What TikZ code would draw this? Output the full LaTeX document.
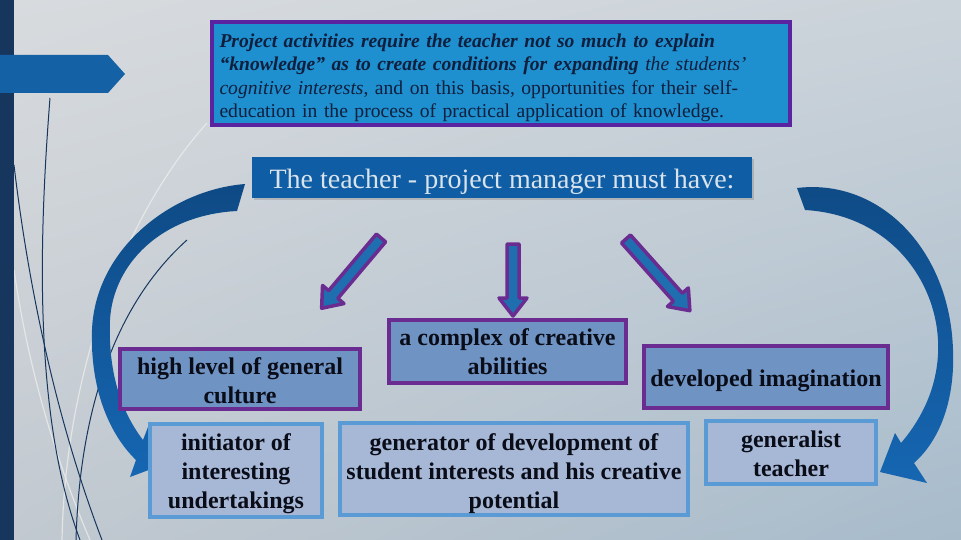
\documentclass[tikz,border=0pt]{standalone}
\usepackage{fontspec}
\setmainfont{Liberation Serif}
\usetikzlibrary{shadows,shadings}
\definecolor{bgUL}{HTML}{D8DBDE}
\definecolor{bgUR}{HTML}{CBD3DA}
\definecolor{bgLL}{HTML}{C2C9D0}
\definecolor{bgLR}{HTML}{A7BBCB}
\definecolor{barnavy}{HTML}{17365D}
\definecolor{pentblue}{HTML}{1461A6}
\definecolor{topfill}{HTML}{1E8FCF}
\definecolor{topborder}{HTML}{5A24A0}
\definecolor{toptext}{HTML}{0F1F3D}
\definecolor{titlefill}{HTML}{0F5EA5}
\definecolor{titletext}{HTML}{D9E3EC}
\definecolor{purp}{HTML}{6A2C90}
\definecolor{pfill}{HTML}{6F93C3}
\definecolor{bborder}{HTML}{5B9BD5}
\definecolor{bfill}{HTML}{A6B8D6}
\definecolor{arrfill}{HTML}{1F6EB0}
\definecolor{curvtop}{HTML}{0E4A85}
\definecolor{curvbot}{HTML}{1666B2}
\definecolor{boxtext}{HTML}{0A0C18}
\newcommand\lowr[1]{\rule{0pt}{#1}}
\tikzset{
  topbox/.style={draw=topborder, line width=4pt, fill=topfill, text width=562pt, align=left,
    inner xsep=8pt, minimum height=103pt, text=toptext, font=\fontsize{19.6}{23.3}\selectfont},
  titlebox/.style={fill=titlefill, minimum width=500pt, minimum height=41pt, inner sep=0pt,
    text=titletext, font=\fontsize{28}{30}\selectfont,
    drop shadow={shadow xshift=2pt, shadow yshift=-2pt, opacity=0.35}},
  pbox/.style={draw=purp, line width=3.5pt, fill=pfill, align=center, inner sep=0pt,
    text=boxtext, font=\bfseries\fontsize{24}{29}\selectfont},
  bbox/.style={draw=bborder, line width=4pt, fill=bfill, align=center, inner sep=0pt,
    text=boxtext, font=\bfseries\fontsize{24}{29}\selectfont,
    drop shadow={shadow xshift=2pt, shadow yshift=-2pt, opacity=0.3}},
  fatarr/.style={draw=purp, line width=3.5pt, fill=arrfill, line join=round},
  curvarr/.style={top color=curvtop, bottom color=curvbot},
  thinnavy/.style={draw=barnavy, line width=1pt},
  thingray/.style={draw=white!85!gray, line width=1.2pt, opacity=0.8}
}
\newcommand\fatarrow[4]{%
  \begin{scope}[shift={(#1,#2)}, rotate=#3]
    \draw[fatarr] (0,-6) -- ({#4-18},-6) -- ({#4-18},-14) -- (#4,0) -- ({#4-18},14) -- ({#4-18},6) -- (0,6) -- cycle;
  \end{scope}}
\begin{document}
\begin{tikzpicture}[x=1pt, y=-1pt]
  \useasboundingbox (0,0) rectangle (961,540);
  % background
  \shade[upper left=bgUL, upper right=bgUR, lower left=bgLL, lower right=bgLR] (0,0) rectangle (961,540);
  % thin decorative lines
  \draw[thingray] (207,123) .. controls (120,220) and (65,380) .. (62,540);
  \draw[thingray] (14,270) .. controls (30,380) and (60,470) .. (90,540);
  \draw[thinnavy] (50,98) .. controls (38,250) and (35,420) .. (80,540);
  \draw[thinnavy] (14,165) .. controls (30,300) and (60,430) .. (102,540);
  \draw[thinnavy] (187,240) .. controls (120,300) and (80,400) .. (76,540);
  % left bar and pentagon
  \fill[barnavy] (0,0) rectangle (14,540);
  \fill[pentblue] (0,55) -- (108,55) -- (125,74) -- (108,93) -- (0,93) -- cycle;

  % top text box
  \node[topbox] (intro) at (500.5,73.5) {%
    \lowr{22pt}\textbf{\textit{Project activities require the teacher not so much to explain}}\\
    \textbf{\textit{“knowledge” as to create conditions for expanding}} \textit{the students’}\\
    \textit{cognitive interests}, and on this basis, opportunities for their self-\\
    education in the process of practical application of knowledge.};

  % title
  \node[titlebox] (title) at (502,177.5) {\lowr{28pt}The teacher - project manager must have:};

  % curved arrows
  \shade[curvarr] (245,184) .. controls (170,190) and (95,250) .. (92,330)
     .. controls (90,390) and (110,435) .. (136,460) -- (130,477) -- (162,465) -- (148,427) -- (143,440)
     .. controls (120,410) and (108,370) .. (110,320)
     .. controls (113,265) and (160,215) .. (237,211) -- cycle;
  \shade[curvarr] (797,188) .. controls (880,178) and (950,250) .. (953,350)
     .. controls (955,400) and (940,440) .. (914,463) -- (927,483) -- (880,472) -- (895,433) -- (901,443)
     .. controls (925,415) and (940,380) .. (938,340)
     .. controls (935,280) and (890,215) .. (805,210) -- cycle;

  % straight arrows
  \fatarrow{381}{238}{229.8}{92}
  \fatarrow{513}{244}{270}{72}
  \fatarrow{626}{239}{311.7}{96}

  % purple boxes
  \node[pbox, minimum width=240pt, minimum height=60pt] (culture) at (240,379)
    {\lowr{20pt}high level of general\\culture};
  \node[pbox, minimum width=237pt, minimum height=63pt] (creative) at (507.5,351.5)
    {a complex of creative\\abilities};
  \node[pbox, minimum width=244pt, minimum height=62pt] (imagination) at (766,377)
    {\lowr{24pt}developed imagination};

  % blue boxes
  \node[bbox, minimum width=172pt, minimum height=93pt] (initiator) at (236,470.5)
    {\lowr{24pt}initiator of\\interesting\\undertakings};
  \node[bbox, minimum width=348pt, minimum height=92pt] (generator) at (514,469)
    {\lowr{26pt}generator of development of\\student interests and his creative\\potential};
  \node[bbox, minimum width=170pt, minimum height=63pt] (generalist) at (791,452.5)
    {\lowr{19pt}generalist\\teacher};
\end{tikzpicture}
\end{document}
